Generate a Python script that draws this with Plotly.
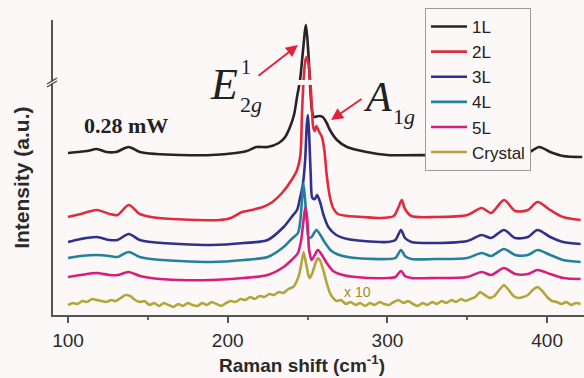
import plotly.graph_objects as go

# Raman shift (cm^-1) sample points and offset-stacked intensities (a.u.)
x_1l = [100, 106, 112, 118, 124, 130, 138, 145, 155, 170, 190, 205, 212, 218, 225, 232, 236,
        239, 241.5, 243.4, 245.3, 247, 249, 250.5, 251.5, 252.8, 254, 257, 259.5, 262, 264,
        268.4, 274.7, 287, 300, 330, 350, 360, 366, 373, 380, 388, 395, 402, 410, 422]
i_1l = [162, 163, 164, 166, 163, 163, 168, 163, 161, 160, 160, 162, 164, 168, 168, 172, 178,
        188, 200, 218, 235, 262, 290, 262, 232, 204, 198, 199, 198, 192, 185,
        175, 168, 163, 160, 160, 160, 162, 161, 167, 161, 162, 168, 163, 159, 158]

x_2l = [100, 108, 118, 126, 131, 138, 145, 152, 165, 180, 195, 202, 209, 215, 222, 228, 234,
        240, 243.4, 245.5, 246.5, 247.5, 248.7, 249.5, 250.5, 251.8, 252.8, 253.5, 254.5,
        255.5, 257, 259, 260.5, 262, 264, 266, 269, 275, 285, 295, 304, 307, 309, 311, 315,
        330, 350, 359, 365, 373, 380, 388, 394, 402, 410, 421]
i_2l = [98, 101, 105, 101, 100, 110, 101, 98, 96, 95, 95, 97, 103, 105, 108, 113, 122,
        135, 145, 160, 200, 235, 255, 258, 252, 232, 205, 188, 184,
        189, 184, 178, 165, 140, 118, 107, 101, 99, 98, 97, 99, 108, 115, 106, 99,
        98, 100, 107, 102, 115, 104, 105, 113, 105, 98, 95]

x_3l = [100, 108, 118, 126, 131, 138, 145, 152, 170, 190, 210, 225, 235, 240, 243.4, 245,
        247, 248.5, 249.5, 250.2, 251, 252, 253, 254.5, 256, 258, 260, 263, 268, 275, 285,
        300, 305, 308.5, 311, 315, 330, 350, 359, 365, 373, 380, 388, 394, 402, 410, 421]
i_3l = [73, 76, 78, 75, 75, 81, 75, 73, 71, 70, 72, 75, 88, 98, 105, 115,
        130, 155, 190, 200, 180, 140, 117, 116, 120, 112, 100, 88, 80, 76, 74,
        73, 75, 85, 77, 73, 72, 74, 80, 77, 85, 77, 78, 85, 78, 73, 71]

x_4l = [100, 108, 118, 126, 131, 138, 145, 152, 170, 190, 210, 225, 235, 240, 244, 245.5,
        246.5, 247.3, 248.3, 249.5, 250.8, 252.5, 255.5, 258, 261, 265, 270, 280, 300, 305,
        308.5, 311, 315, 330, 350, 359, 365, 373, 380, 388, 394, 402, 410, 421]
i_4l = [57, 59, 60, 59, 58, 63, 58, 56, 54, 53, 55, 58, 68, 76, 82, 95,
        115, 132, 118, 95, 77, 78, 85, 80, 72, 64, 60, 57, 56, 57,
        65, 59, 56, 56, 57, 62, 59, 66, 60, 60, 65, 60, 55, 53]

x_5l = [100, 108, 118, 126, 131, 138, 145, 152, 170, 190, 210, 225, 235, 240, 244, 246,
        247.5, 248.7, 249.8, 251, 252.5, 254.5, 256.5, 259, 262, 266, 272, 280, 300, 305,
        308.5, 311, 315, 330, 350, 359, 365, 373, 380, 388, 394, 402, 410, 421]
i_5l = [38, 40, 42, 40, 40, 43, 39, 37, 35, 35, 37, 40, 48, 55, 62, 75,
        95, 108, 95, 65, 55, 60, 65, 60, 52, 44, 40, 38, 37, 38,
        44, 39, 37, 37, 38, 43, 40, 47, 41, 41, 45, 41, 37, 36]

# bulk crystal spectrum, scaled x10
x_cr = [100, 103, 106, 109, 112, 115, 118, 121, 124, 127, 130, 133, 136, 139, 142, 145, 148,
        151, 154, 157, 160, 163, 166, 169, 172, 175, 178, 181, 184, 187, 190, 193, 196, 199,
        202, 205, 208, 211, 214, 217, 220, 223, 226, 229, 232, 235, 238, 241, 243, 245,
        246.5, 247.5, 249, 250.5, 251.5, 253, 255, 256.5, 258, 260, 262, 264, 266, 268, 271,
        274, 277, 280, 283, 286, 289, 292, 295, 298, 301, 304, 307, 310, 313, 316, 319, 322,
        325, 328, 331, 334, 337, 340, 343, 346, 349, 352, 355, 358, 361, 364, 367, 370, 373,
        376, 379, 382, 385, 388, 391, 394, 397, 400, 403, 406, 409, 412, 415, 418, 421]
i_cr = [10, 12, 11, 14, 13, 16, 15, 14, 13, 15, 14, 17, 20, 19, 15, 13, 14,
        10, 12, 9, 12, 10, 8, 11, 9, 12, 10, 9, 12, 10, 13, 11, 9, 12,
        14, 13, 16, 15, 18, 16, 19, 18, 21, 20, 23, 22, 26, 28, 33, 42,
        55, 63, 52, 40, 37, 42, 52, 57, 54, 44, 32, 22, 17, 14, 15,
        11, 13, 10, 12, 9, 12, 10, 13, 11, 10, 13, 15, 12, 14, 11, 9, 12,
        10, 13, 11, 14, 12, 15, 13, 16, 14, 16, 18, 23, 20, 17, 19, 25, 30,
        25, 19, 17, 18, 20, 25, 28, 24, 18, 14, 13, 11, 13, 10, 12, 11]

names = ["1L", "2L", "3L", "4L", "5L", "Crystal"]
colors = ["#2b2228", "#e12b3d", "#2f318c", "#23819e", "#d61f7c", "#b3a53a"]
smooth = [0.8, 0.8, 0.8, 0.8, 0.8, 0.4]
xs = [x_1l, x_2l, x_3l, x_4l, x_5l, x_cr]
ys = [i_1l, i_2l, i_3l, i_4l, i_5l, i_cr]

BG = "#fcf8f8"
SANS = "Liberation Sans, Arial, sans-serif"
SERIF = "Liberation Serif, Times New Roman, serif"
RED = "#e0233a"

fig = go.Figure()
for name, x, y, c, s in zip(names, xs, ys, colors, smooth):
    fig.add_trace(go.Scatter(x=x, y=y, mode="lines", name=name,
                             line=dict(color=c, width=2.6, shape="spline", smoothing=s)))

# gap in the peaks and on the y axis marking the broken intensity scale
shapes = [
    dict(type="rect", xref="x", yref="y", x0=238, x1=262, y0=230, y1=235,
         fillcolor=BG, line=dict(width=0), layer="above"),
    dict(type="rect", xref="paper", yref="y", x0=-0.008, x1=0.006, y0=231.5, y1=233.5,
         fillcolor=BG, line=dict(width=0), layer="above"),
    dict(type="line", xref="paper", yref="y", x0=-0.0113, x1=0.0075, y0=228, y1=234,
         line=dict(color="#444", width=1.3), layer="above"),
    dict(type="line", xref="paper", yref="y", x0=-0.0113, x1=0.0075, y0=231, y1=237,
         line=dict(color="#444", width=1.3), layer="above"),
]

annotations = [
    dict(text="<b>Raman shift (cm<sup>-1</sup>)</b>", xref="paper", yref="paper",
         x=(302 - 53) / 531, y=(315 - 364) / 295, xanchor="center", yanchor="middle",
         showarrow=False, font=dict(family=SANS, size=19, color="#2a2a2a")),
    dict(text="<b>Intensity (a.u.)</b>", xref="paper", yref="paper", textangle=-90,
         x=(22 - 53) / 531, y=0.465, xanchor="center", yanchor="middle", showarrow=False,
         font=dict(family=SANS, size=21, color="#2a2a2a")),
    dict(text="<b>0.28 mW</b>", x=136.3, y=190, showarrow=False,
         font=dict(family=SERIF, size=22, color="#222")),
    dict(text="<i>E</i>", x=197.7, y=231, showarrow=False,
         font=dict(family=SERIF, size=44, color="#222")),
    dict(text="1", x=211.5, y=248, showarrow=False,
         font=dict(family=SERIF, size=20, color="#222")),
    dict(text="2<i>g</i>", x=214.6, y=211, showarrow=False,
         font=dict(family=SERIF, size=22, color="#222")),
    dict(text="<i>A</i>", x=294, y=218, showarrow=False,
         font=dict(family=SERIF, size=42, color="#222")),
    dict(text="1<i>g</i>", x=310.5, y=199, showarrow=False,
         font=dict(family=SERIF, size=22, color="#222")),
    dict(text="x 10", x=281, y=23, showarrow=False,
         font=dict(family=SANS, size=14, color="#9a8d2c")),
    dict(text="", x=244, y=270, ax=-41, ay=32, showarrow=True, arrowhead=2,
         arrowsize=1.2, arrowwidth=2, arrowcolor=RED),
    dict(text="", x=264.7, y=195, ax=32, ay=-22, showarrow=True, arrowhead=2,
         arrowsize=1.2, arrowwidth=2, arrowcolor=RED),
]

fig.update_layout(
    width=584, height=378,
    margin=dict(l=53, r=0, t=20, b=63),
    paper_bgcolor=BG, plot_bgcolor=BG,
    showlegend=True,
    legend=dict(x=(425 - 53) / 531, y=(315 - 8) / 295, xanchor="left", yanchor="top",
                bgcolor=BG, bordercolor="#9c9c9c", borderwidth=1, itemwidth=36,
                font=dict(family=SANS, size=17, color="#222"), tracegroupgap=0),
    xaxis=dict(range=[90.6, 423.1], showline=True, linecolor="#555", linewidth=1.5,
               ticks="outside", ticklen=6, tickwidth=1.5, tickcolor="#555",
               tickvals=[100, 200, 300, 400], ticklabelstandoff=1,
               minor=dict(tickvals=[150, 250, 350], ticks="outside", ticklen=3,
                          tickcolor="#666", tickwidth=1.5),
               showgrid=False, zeroline=False,
               tickfont=dict(family=SANS, size=19, color="#2a2a2a")),
    yaxis=dict(range=[0, 295], showline=True, linecolor="#555", linewidth=1.5,
               showticklabels=False, ticks="", showgrid=False, zeroline=False),
    shapes=shapes,
    annotations=annotations,
)

fig.write_html("out.html")
